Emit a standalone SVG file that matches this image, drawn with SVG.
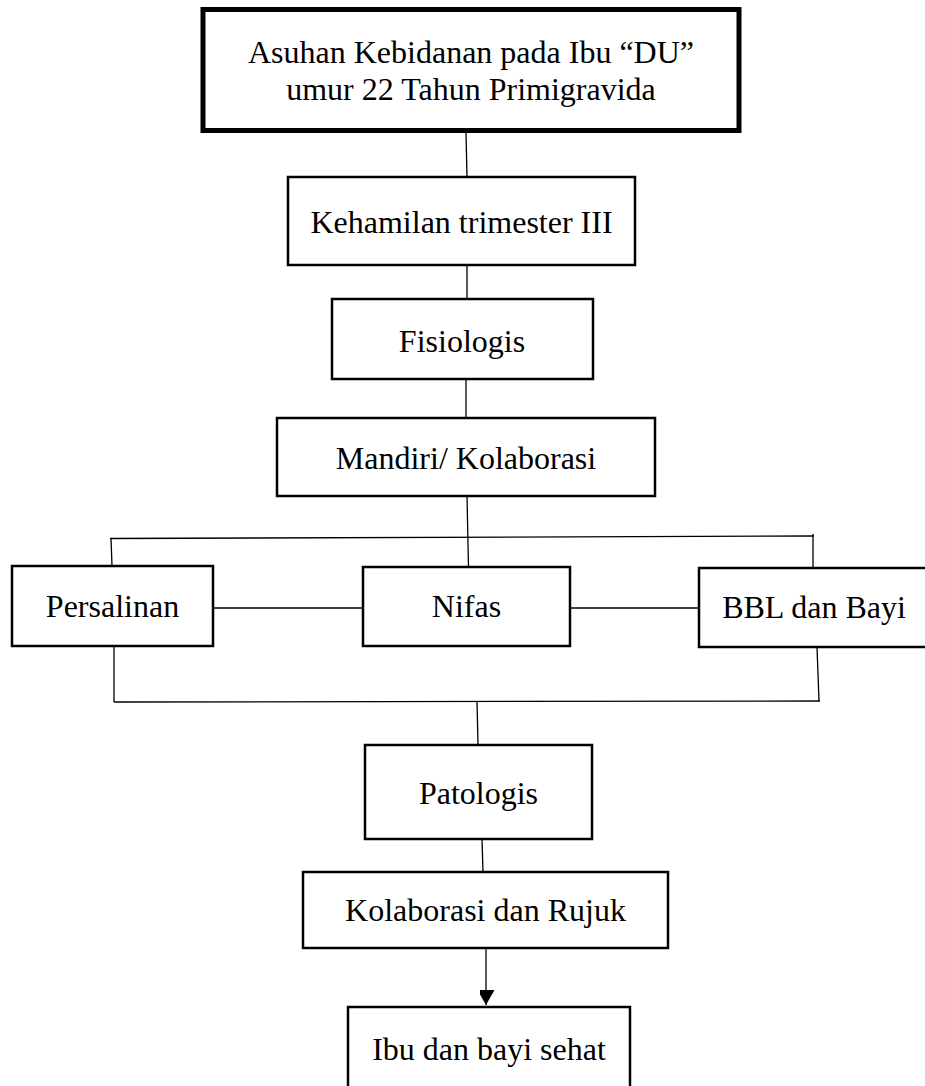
<svg xmlns="http://www.w3.org/2000/svg" width="925" height="1086" viewBox="0 0 925 1086">
<style>
.box{fill:#fff;stroke:#000;stroke-width:2.5}
.main{fill:#fff;stroke:#000;stroke-width:5}
.t{font-family:"Liberation Serif","Times New Roman",serif;font-size:32px;fill:#000;text-anchor:middle}
.c{stroke:#000;stroke-width:1.3;fill:none}
</style>
<defs>
<marker id="ah" markerWidth="17" markerHeight="15" refX="15" refY="8.5" orient="auto" markerUnits="userSpaceOnUse">
<path d="M0,0 L15,8.5 L0,17 Z" fill="#000"/>
</marker>
</defs>
<rect width="925" height="1086" fill="#fff"/>
<g id="connectors">
<line class="c" x1="466" y1="133" x2="467" y2="177"/>
<line class="c" x1="467" y1="265" x2="467" y2="299"/>
<line class="c" x1="466" y1="377" x2="466" y2="418"/>
<line class="c" x1="467" y1="496" x2="468.5" y2="567"/>
<line class="c" x1="110" y1="538.5" x2="814" y2="536"/>
<line class="c" x1="111" y1="538" x2="112" y2="566"/>
<line class="c" x1="813" y1="534" x2="813" y2="568"/>
<line class="c" x1="213" y1="608" x2="363" y2="608"/>
<line class="c" x1="570" y1="608" x2="699" y2="608"/>
<line class="c" x1="114" y1="646" x2="114" y2="702"/>
<line class="c" x1="114" y1="702" x2="820" y2="701"/>
<line class="c" x1="817" y1="647" x2="819" y2="701"/>
<line class="c" x1="477" y1="701" x2="478" y2="745"/>
<line class="c" x1="482" y1="839" x2="483" y2="872"/>
<line class="c" x1="486" y1="947" x2="486" y2="1005" marker-end="url(#ah)"/>
</g>
<g id="n-asuhan">
<rect class="main" x="203" y="9.5" width="536" height="121"/>
<text class="t" x="471" y="63">Asuhan Kebidanan pada Ibu “DU”</text>
<text class="t" x="471" y="100">umur 22 Tahun Primigravida</text>
</g>
<g id="n-kehamilan">
<rect class="box" x="288" y="177" width="347" height="88"/>
<text class="t" x="461.5" y="232.5">Kehamilan trimester III</text>
</g>
<g id="n-fisiologis">
<rect class="box" x="332" y="299" width="261" height="80"/>
<text class="t" x="462" y="351.5">Fisiologis</text>
</g>
<g id="n-mandiri">
<rect class="box" x="277" y="418" width="378" height="78"/>
<text class="t" x="466" y="468.5">Mandiri/ Kolaborasi</text>
</g>
<g id="n-persalinan">
<rect class="box" x="12" y="566" width="201" height="80"/>
<text class="t" x="112.5" y="617">Persalinan</text>
</g>
<g id="n-nifas">
<rect class="box" x="363" y="567" width="207" height="79"/>
<text class="t" x="466.5" y="617">Nifas</text>
</g>
<g id="n-bbl">
<rect class="box" x="699" y="568" width="240" height="79"/>
<text class="t" x="814" y="618">BBL dan Bayi</text>
</g>
<g id="n-patologis">
<rect class="box" x="365" y="745" width="227" height="94"/>
<text class="t" x="478.5" y="804">Patologis</text>
</g>
<g id="n-kolaborasi">
<rect class="box" x="303" y="872" width="365" height="76"/>
<text class="t" x="485.5" y="921">Kolaborasi dan Rujuk</text>
</g>
<g id="n-ibu">
<rect class="box" x="348" y="1007" width="282" height="90"/>
<text class="t" x="489" y="1060">Ibu dan bayi sehat</text>
</g>
</svg>
